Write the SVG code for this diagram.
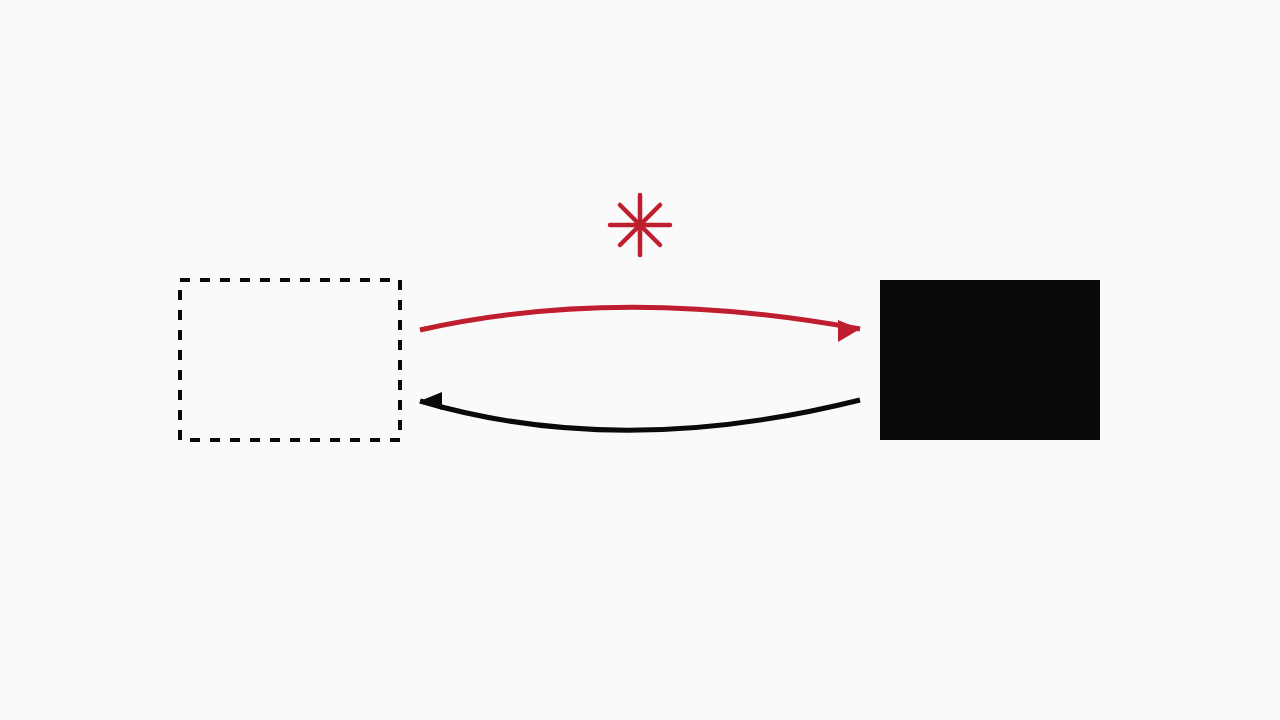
<svg xmlns="http://www.w3.org/2000/svg" width="1280" height="720" viewBox="0 0 1280 720">
<style>
.conn{fill:none;stroke-width:5}
.red{stroke:#be1e2d}
.blk{stroke:#0a0a0a}
</style>
<defs>
<marker id="ahRed" markerUnits="userSpaceOnUse" markerWidth="24" markerHeight="24" viewBox="0 0 24 24" refX="22" refY="9" orient="0">
<path d="M0,0 L22,9 L0,22 Z" fill="#be1e2d"/>
</marker>
<marker id="ahBlk" markerUnits="userSpaceOnUse" markerWidth="24" markerHeight="24" viewBox="0 0 24 24" refX="22" refY="9" orient="180">
<path d="M0,0 L22,9 L0,18 Z" fill="#0a0a0a"/>
</marker>
</defs>
<rect width="1280" height="720" fill="#fafafa"/>
<g id="node-left">
<rect x="180" y="280" width="220" height="160" fill="none" stroke="#0a0a0a" stroke-width="4" stroke-dasharray="10 10"/>
</g>
<g id="node-right">
<rect x="880" y="280" width="220" height="160" fill="#0a0a0a"/>
</g>
<g id="asterisk" stroke="#be1e2d" stroke-width="4.5" stroke-linecap="round">
<line x1="640" y1="195" x2="640" y2="255"/>
<line x1="610" y1="225" x2="670" y2="225"/>
<line x1="620" y1="205" x2="660" y2="245"/>
<line x1="660" y1="205" x2="620" y2="245"/>
</g>
<g id="connectors">
<path class="conn red" d="M420,330 Q620,285 860,329" marker-end="url(#ahRed)"/>
<path class="conn blk" d="M860,400 Q620,460 420,401" marker-end="url(#ahBlk)"/>
</g>
</svg>
